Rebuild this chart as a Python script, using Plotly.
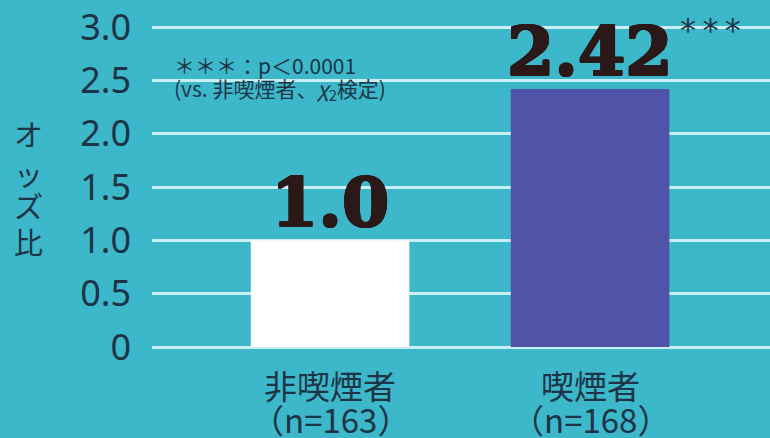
import plotly.graph_objects as go

# Odds ratio by smoking status
categories = ["非喫煙者", "喫煙者"]
sample_sizes = ["（n=163）", "（n=168）"]
odds_ratios = [1.0, 2.42]
value_labels = ["1.0", "2.42"]
bar_colors = ["#ffffff", "#4f54a9"]
y_ticks = [0, 0.5, 1.0, 1.5, 2.0, 2.5, 3.0]
y_tick_labels = ["0", "0.5", "1.0", "1.5", "2.0", "2.5", "3.0"]
y_title_chars = ["オ", "ッ", "ズ", "比"]
footnote_lines = ["＊＊＊：p＜0.0001", "(vs. 非喫煙者、<i>χ</i><sub>2</sub>検定)"]

W, H = 770, 438
M_L, M_R, M_T, M_B = 152, 0, 10, 88
BG = "#3db7ca"
INK = "#1c3445"
GRID = "#c9eef4"
JP_FONT = "Noto Sans CJK JP, Noto Sans, sans-serif"
LABEL_INK = "#2b1818"


def px_x(x):
    """Pixel column -> paper x (paper spans the plot area)."""
    return (x - M_L) / (W - M_L - M_R)


def px_y(y):
    """Pixel row (from top) -> paper y."""
    return (H - M_B - y) / (H - M_T - M_B)


xs = list(range(len(categories)))

fig = go.Figure()
fig.add_trace(go.Bar(
    x=xs, y=odds_ratios, width=0.61,
    marker=dict(color=bar_colors, line=dict(width=0)),
    hoverinfo="skip",
))

# Heavy value labels above bars
heavy = ", ".join(f"{dx}px {dy}px 0 {LABEL_INK}" for dx, dy in
                  [(1, 0), (-1, 0), (0, 1), (0, -1), (1, 1), (-1, -1), (1, -1), (-1, 1)])
for x, v, lab in zip(xs, odds_ratios, value_labels):
    fig.add_annotation(
        x=x, y=v, xref="x", yref="y", text=f"<b>{lab}</b>",
        showarrow=False, yanchor="bottom", yshift=-4,
        font=dict(family="DejaVu Serif", size=68, color=LABEL_INK, shadow=heavy),
    )

# Significance marker next to the smokers' value
fig.add_annotation(
    x=xs[1], y=odds_ratios[1], xref="x", yref="y", text="*\u2009*\u2009*",
    showarrow=False, xanchor="left", yanchor="bottom", xshift=88, yshift=38,
    font=dict(family="DejaVu Sans", size=32, color=INK),
)

# Category labels below the axis (two lines each)
for x, c, n in zip(xs, categories, sample_sizes):
    fig.add_annotation(
        x=x, y=px_y(385), xref="x", yref="paper", text=c,
        showarrow=False, yanchor="middle",
        font=dict(family=JP_FONT, size=33, color=INK),
    )
    fig.add_annotation(
        x=x, y=px_y(419), xref="x", yref="paper", text=n,
        showarrow=False, yanchor="middle",
        font=dict(family=JP_FONT, size=33, color=INK),
    )

# Footnote
for i, line in enumerate(footnote_lines):
    fig.add_annotation(
        xref="paper", yref="paper", x=px_x(172), y=px_y(65 + 24 * i),
        text=line, showarrow=False, xanchor="left", yanchor="middle", align="left",
        font=dict(family=JP_FONT, size=21, color=INK),
    )

# Vertical axis title, stacked characters
for ch, yc in zip(y_title_chars, [133, 173, 205, 241]):
    fig.add_annotation(
        xref="paper", yref="paper", x=px_x(28), y=px_y(yc),
        text=ch, showarrow=False, xanchor="center", yanchor="middle",
        font=dict(family=JP_FONT, size=29, color=INK),
    )

fig.update_layout(
    width=W, height=H,
    margin=dict(l=M_L, r=M_R, t=M_T, b=M_B),
    paper_bgcolor=BG, plot_bgcolor=BG,
    showlegend=False,
    xaxis=dict(range=[-0.685, 1.692], showticklabels=False, showgrid=False,
               zeroline=False, showline=False, fixedrange=True),
    yaxis=dict(range=[-0.028, 3.16], tickvals=y_ticks, ticktext=y_tick_labels,
               showgrid=True, gridcolor=GRID, gridwidth=3,
               zeroline=False, showline=False, ticks="",
               ticklabelstandoff=20,
               tickfont=dict(family="Noto Sans, sans-serif", size=36, color=INK)),
)

fig.write_html("out.html")
